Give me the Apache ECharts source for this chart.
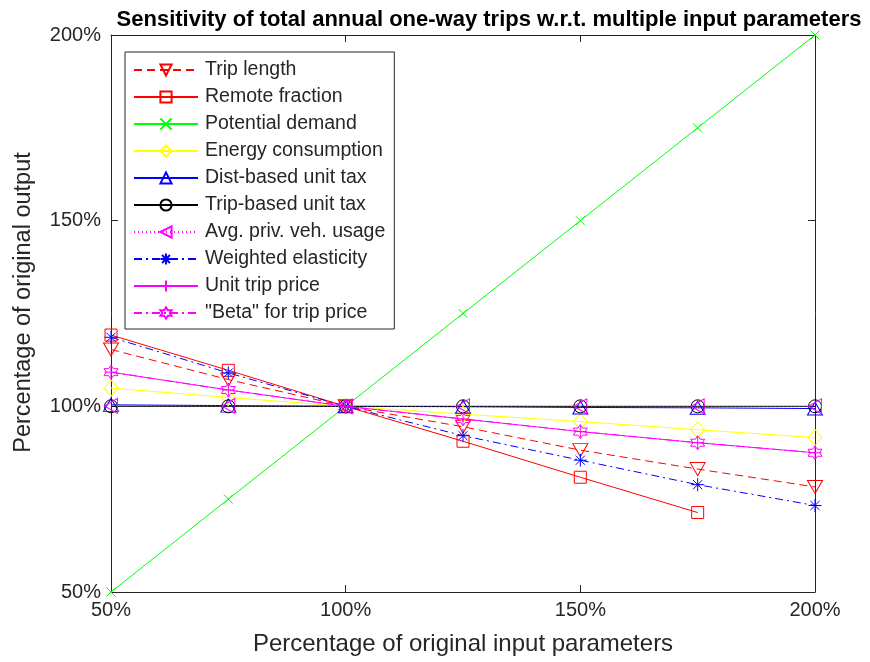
<!DOCTYPE html>
<html><head><meta charset="utf-8">
<script src="https://cdn.jsdelivr.net/npm/echarts@6/dist/echarts.min.js"></script>
<style>html,body{margin:0;padding:0;background:#fff}#c{width:870px;height:662px}</style>
</head><body><div id="c"></div>
<script>
// ---- data ----
const inputs = [50, 75, 100, 125, 150, 175, 200];
const tripLength      = [115.3, 107.2, 100, 94.5, 88.2, 83.1, 78.3];
const remoteFraction  = [119.2, 109.7, 100, 90.6, 80.9, 71.4];
const potentialDemand = [50, 75, 100, 125, 150, 175, 200];
const energyConsumption = [104.9, 102.4, 100, 97.9, 95.9, 93.7, 91.6];
const distTax         = [100.4, 100.2, 100, 99.9, 99.7, 99.6, 99.4];
const tripTax         = [100, 100, 100, 100, 100, 100, 100];
const privVehUsage    = [100.1, 100.1, 100, 100, 100, 100, 100];
const weightedElasticity = [118.6, 109.0, 100, 92.1, 85.5, 78.9, 73.3];
const unitTripPrice   = [109.2, 104.4, 100, 96.6, 93.2, 90.2, 87.5];
const betaTripPrice   = [109.2, 104.4, 100, 96.6, 93.2, 90.2, 87.5];
const tickValues = [50, 100, 150, 200];
const names = ['Trip length','Remote fraction','Potential demand','Energy consumption','Dist-based unit tax','Trip-based unit tax','Avg. priv. veh. usage','Weighted elasticity','Unit trip price','"Beta" for trip price'];

const P = {
  tri: 'path://M5,0 L10,8.66 L0,8.66 Z',
  rect: 'path://M0,0 L10,0 L10,10 L0,10 Z',
  x: 'path://M0,0 L10,10 M10,0 L0,10',
  diamond: 'path://M5,0 L10,5 L5,10 L0,5 Z',
  circle: 'path://M10,5 A5,5 0 1 1 0,5 A5,5 0 1 1 10,5 Z',
  star: 'path://M5,0 L5,10 M0,5 L10,5 M1.5,1.5 L8.5,8.5 M8.5,1.5 L1.5,8.5',
  plus: 'path://M5,0 L5,10 M0,5 L10,5',
  hex: 'path://M5,0 L6.44,2.5 L9.33,2.5 L7.89,5 L9.33,7.5 L6.44,7.5 L5,10 L3.56,7.5 L0.67,7.5 L2.11,5 L0.67,2.5 L3.56,2.5 Z'
};
function mk(name, vals, color, type, sym, size, rot) {
  return {
    name, type: 'line',
    data: vals.map((v, i) => [inputs[i], v]),
    symbol: sym, symbolSize: size, symbolRotate: rot || 0,
    showSymbol: true,
    lineStyle: { color, width: 1, type },
    itemStyle: { color: 'rgba(0,0,0,0)', borderColor: color, borderWidth: 1 },
    emphasis: { disabled: true },
    animation: false
  };
}
const series = [
  mk(names[0], tripLength, '#ff0000', [8, 5], P.tri, [15, 13], 180),
  mk(names[1], remoteFraction, '#ff0000', 'solid', P.rect, 12),
  mk(names[2], potentialDemand, '#00ff00', 'solid', P.x, 9),
  mk(names[3], energyConsumption, '#ffff00', 'solid', P.diamond, [14, 16]),
  mk(names[4], distTax, '#0000ff', 'solid', P.tri, [15, 13]),
  mk(names[5], tripTax, '#000000', 'solid', P.circle, 13),
  mk(names[6], privVehUsage, '#ff00ff', [1, 3], P.tri, [15, 13], 90),
  mk(names[7], weightedElasticity, '#0000ff', [8, 4, 2, 4], P.star, 13),
  mk(names[8], unitTripPrice, '#ff00ff', 'solid', P.plus, 13),
  mk(names[9], betaTripPrice, '#ff00ff', [8, 4, 2, 4], P.hex, 14)
];
const font = 'Liberation Sans, Arial, Helvetica, sans-serif';
const txt = '#262626';
const fmt = v => v + '%';
const chart = echarts.init(document.getElementById('c'), null, { renderer: 'canvas' });
chart.setOption({
  backgroundColor: '#fff',
  animation: false,
  title: {
    text: 'Sensitivity of total annual one-way trips w.r.t. multiple input parameters',
    left: 484, top: 4, textAlign: 'center',
    textStyle: { fontFamily: font, fontSize: 22, fontWeight: 'bold', color: '#000' }
  },
  grid: { left: 111, right: 55, top: 35, bottom: 70, show: false },
  legend: {
    orient: 'vertical', left: 125, top: 52,
    data: names,
    backgroundColor: '#fff', borderColor: txt, borderWidth: 1,
    padding: [8, 9, 6, 8],
    itemWidth: 64, itemHeight: 14, itemGap: 7,
    textStyle: { fontFamily: font, fontSize: 19.5, color: txt, padding: [0, 0, 0, 2] },
    selectedMode: false
  },
  xAxis: [{
    type: 'value', min: 50, max: 200, interval: 50,
    name: 'Percentage of original input parameters', nameLocation: 'middle', nameGap: 40,
    nameTextStyle: { fontFamily: font, fontSize: 24, color: txt },
    axisLine: { show: true, onZero: false, lineStyle: { color: txt, width: 1 } },
    axisTick: { show: true, inside: true, length: 7, lineStyle: { color: txt } },
    axisLabel: { formatter: fmt, fontFamily: font, fontSize: 20, color: txt, margin: 8 },
    splitLine: { show: false }
  }, {
    type: 'value', min: 50, max: 200, interval: 50, position: 'top',
    axisLine: { show: true, onZero: false, lineStyle: { color: txt, width: 1 } },
    axisTick: { show: true, inside: true, length: 7, lineStyle: { color: txt } },
    axisLabel: { show: false }, splitLine: { show: false }
  }],
  yAxis: [{
    type: 'value', min: 50, max: 200, interval: 50,
    name: 'Percentage of original output', nameLocation: 'middle', nameGap: 75,
    nameTextStyle: { fontFamily: font, fontSize: 23.5, color: txt, padding: [0, 0, 0, 22] },
    axisLine: { show: true, onZero: false, lineStyle: { color: txt, width: 1 } },
    axisTick: { show: true, inside: true, length: 7, lineStyle: { color: txt } },
    axisLabel: { formatter: fmt, fontFamily: font, fontSize: 20, color: txt, margin: 10 },
    splitLine: { show: false }
  }, {
    type: 'value', min: 50, max: 200, interval: 50, position: 'right',
    axisLine: { show: true, onZero: false, lineStyle: { color: txt, width: 1 } },
    axisTick: { show: true, inside: true, length: 7, lineStyle: { color: txt } },
    axisLabel: { show: false }, splitLine: { show: false }
  }],
  series
});
</script></body></html>
